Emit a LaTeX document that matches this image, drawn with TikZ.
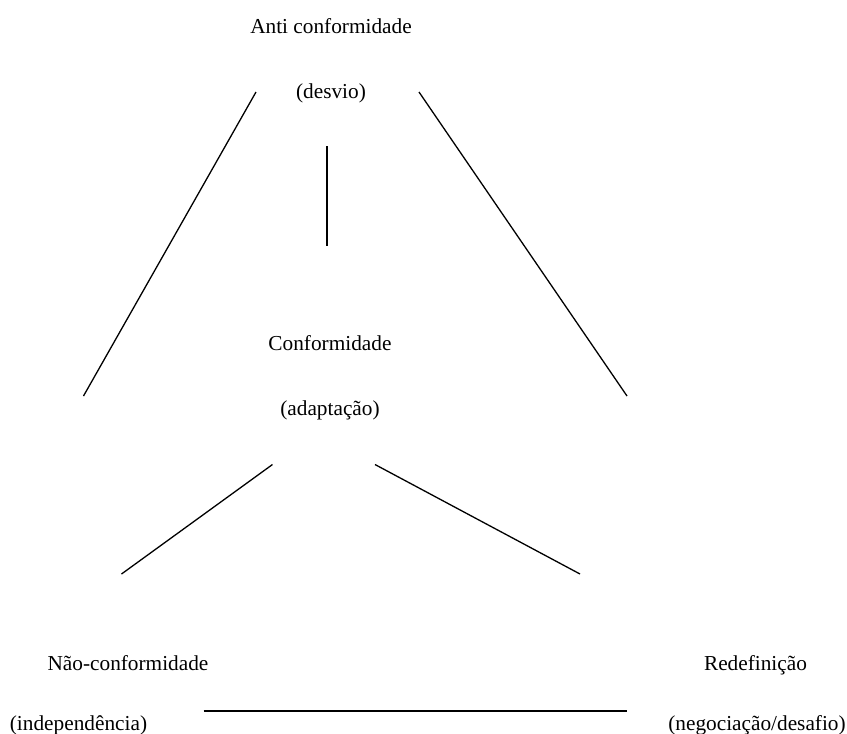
\documentclass[tikz,border=0pt]{standalone}
\usepackage{fontspec}
\setmainfont{Liberation Serif}
\begin{document}
\begin{tikzpicture}[x=1pt,y=-1pt,
  lbl/.style={anchor=base,inner sep=0pt,outer sep=0pt,font=\fontsize{21.3}{25}\selectfont},
  thin line/.style={line width=1.3pt},
  thick line/.style={line width=1.9pt}]
\path[use as bounding box,fill=white] (0,0) rectangle (847,734);
% texts
\node[lbl] (anti) at (331,33) {Anti conformidade};
\node[lbl] (desvio) at (331,98) {(desvio)};
\node[lbl] (conf) at (330,350) {Conformidade};
\node[lbl] (adapt) at (330,415) {(adaptação)};
\node[lbl] (nao) at (128,670) {Não-conformidade};
\node[lbl] (indep) at (78.5,730) {(independência)};
\node[lbl] (redef) at (755.5,670) {Redefinição};
\node[lbl] (negoc) at (757,730) {(negociação/desafio)};
% line ends
\coordinate (tl1) at (256,92);
\coordinate (tl2) at (83.5,396);
\coordinate (tr1) at (419,92);
\coordinate (tr2) at (627,396);
\coordinate (v1) at (327,146);
\coordinate (v2) at (327,246);
\coordinate (ml1) at (272.5,464.5);
\coordinate (ml2) at (121.5,574);
\coordinate (mr1) at (375,464.5);
\coordinate (mr2) at (580,574);
\coordinate (h1) at (203.5,711);
\coordinate (h2) at (626.5,711);
\draw[thin line] (tl1) -- (tl2);
\draw[thin line] (tr1) -- (tr2);
\draw[thin line] (v1) -- (v2);
\draw[thin line] (ml1) -- (ml2);
\draw[thin line] (mr1) -- (mr2);
\draw[thick line] (h1) -- (h2);
\end{tikzpicture}
\end{document}
